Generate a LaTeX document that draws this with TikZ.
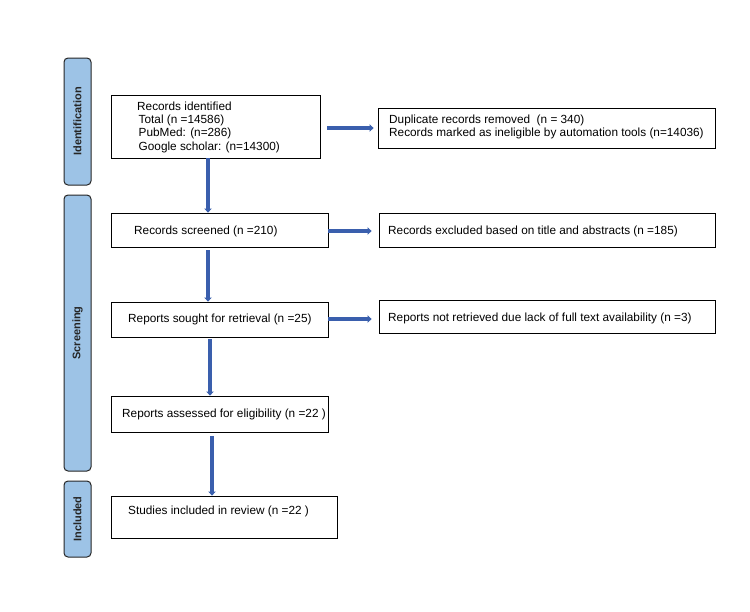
\documentclass[tikz,border=0pt]{standalone}
\usepackage{fontspec}
\setmainfont{Liberation Sans}
\usetikzlibrary{arrows.meta}
\definecolor{barfill}{HTML}{9DC3E6}
\definecolor{arrblue}{HTML}{3A5FAD}
\tikzset{
  box/.style={draw=black, line width=0.9pt, rectangle, inner sep=0pt},
  bar/.style={draw=black!85, fill=barfill, line width=1pt, rounded corners=4pt, inner sep=0pt},
  barlabel/.style={rotate=90, font=\fontsize{11}{13}\selectfont\bfseries, text=black!85},
  lbl/.style={anchor=west, align=left, inner sep=0pt, font=\fontsize{11.8}{13.3}\selectfont},
  arr/.style={draw=arrblue, line width=3.6pt, -{Triangle[length=4pt,width=7.5pt]}},
}
\begin{document}
\begin{tikzpicture}[x=1pt,y=-1pt]
\useasboundingbox (0,0) rectangle (750,611);
% side bars
\node[bar, minimum width=27pt, minimum height=127pt] (bid) at (77.5,121.5) {};
\node[barlabel] (tid) at (bid.center) {Identification};
\node[bar, minimum width=27pt, minimum height=276pt] (bsc) at (77.5,333) {};
\node[barlabel] (tsc) at (bsc.center) {Screening};
\node[bar, minimum width=27pt, minimum height=76pt] (bin) at (77.5,519) {};
\node[barlabel] (tin) at (bin.center) {Included};
% main boxes
\node[box, minimum width=209pt, minimum height=63pt] (id) at (215.5,126.5) {};
\node[lbl] (tid1) at (137,127) {Records identified\\\hspace{1.5pt}Total (n =14586)\\\hspace{1.5pt}PubMed: (n=286)\\\hspace{1.5pt}Google scholar: (n=14300)};
\node[box, minimum width=217pt, minimum height=34pt] (scr) at (219.5,230) {};
\node[lbl] (tscr) at (134,231) {Records screened (n =210)};
\node[box, minimum width=217pt, minimum height=35pt] (sou) at (219.5,319.5) {};
\node[lbl] (tsou) at (128,319) {Reports sought for retrieval (n =25)};
\node[box, minimum width=217pt, minimum height=36pt] (ass) at (219.5,414) {};
\node[lbl] (tass) at (122,414) {Reports assessed for eligibility (n =22 )};
\node[box, minimum width=226pt, minimum height=42pt] (inc) at (224,517) {};
\node[lbl] (tinc) at (128,511.5) {Studies included in review (n =22 )};
% right boxes
\node[box, minimum width=337pt, minimum height=40pt] (dup) at (546.5,128) {};
\node[lbl] (tdup) at (389,127) {Duplicate records removed\ \ (n = 340)\\Records marked as ineligible by automation tools (n=14036)};
\node[box, minimum width=336pt, minimum height=34pt] (exc) at (547,230) {};
\node[lbl] (texc) at (388,231.5) {Records excluded based on title and abstracts (n =185)};
\node[box, minimum width=336pt, minimum height=33pt] (ret) at (547,316.5) {};
\node[lbl] (tret) at (388,318) {Reports not retrieved due lack of full text availability (n =3)};
% vertical arrows
\draw[arr] (id.south -| 208,0) -- (scr.north -| 208,0);
\draw[arr] ([yshift=-3pt]scr.south -| 208,0) -- (sou.north -| 208,0);
\draw[arr] ([yshift=-2pt]sou.south -| 210,0) -- (ass.north -| 210,0);
\draw[arr] ([yshift=-4pt]ass.south -| 212,0) -- (inc.north -| 212,0);
% horizontal arrows
\draw[arr] ([xshift=7pt]id.east |- 0,128) -- ([xshift=-4pt]dup.west |- 0,128);
\draw[arr] (scr.east |- 0,231) -- ([xshift=-7pt]exc.west |- 0,231);
\draw[arr] (sou.east |- 0,319) -- ([xshift=-7pt]ret.west |- 0,319);
\end{tikzpicture}
\end{document}
